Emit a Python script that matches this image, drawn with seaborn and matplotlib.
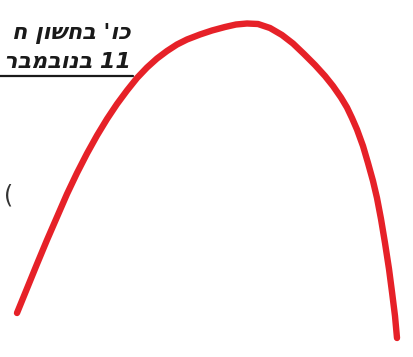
import matplotlib
matplotlib.use("Agg")
import matplotlib.pyplot as plt
import seaborn as sns
import pandas as pd

sns.set_theme(style="white")
plt.rcParams['font.family'] = ['DejaVu Sans']

# Curve trace (image-space coordinates: x to the right, y downward)
curve_x = [17, 27, 37, 47, 57, 67, 77, 87, 97, 107, 117, 127, 137, 147, 157, 167, 177, 187,
           200, 212, 225, 236, 247, 258, 270, 282, 293, 304, 315, 325, 333, 341, 347, 352,
           357, 363, 368, 373, 377, 381, 385, 389, 392, 395, 397]
curve_y = [313, 288.5, 264, 240, 217, 194, 173, 153.5, 135.5, 119, 104, 90.5, 78, 67.5, 58.5, 51, 44.5, 39.5,
           34.5, 30.5, 27, 24.5, 23.5, 24, 28, 35, 43.5, 54, 65, 76, 86, 97.5, 107.5, 118,
           129.5, 146, 163, 181, 198, 219, 243, 269, 292, 316, 338]

line1_text = "כו' בחשון ח"
line2_text = "11 בנובמבר"

def visual(s):
    return s[::-1]

df = pd.DataFrame({"x": curve_x, "y": curve_y})

fig = plt.figure(figsize=(4.14, 3.57), dpi=100)
ax = fig.add_axes([0, 0, 1, 1])
sns.lineplot(data=df, x="x", y="y", sort=False, color="#e62128", linewidth=4.6,
             ax=ax, solid_capstyle="round", solid_joinstyle="round")
ax.set_xlim(0, 414)
ax.set_ylim(357, 0)
ax.axis("off")

ax.text(131, 34, visual(line1_text), ha="right", va="center", fontsize=16,
        fontstyle="italic", fontweight="bold", color="#1a1a1a")
ax.text(131, 62, visual(line2_text), ha="right", va="center", fontsize=16,
        fontstyle="italic", fontweight="bold", color="#1a1a1a")
ax.plot([0, 133], [76, 76], color="#1a1a1a", linewidth=1.6)
ax.text(9, 196, "(", ha="center", va="center", fontsize=17, color="#333333")

fig.savefig("out.png", dpi=100, facecolor="white")
